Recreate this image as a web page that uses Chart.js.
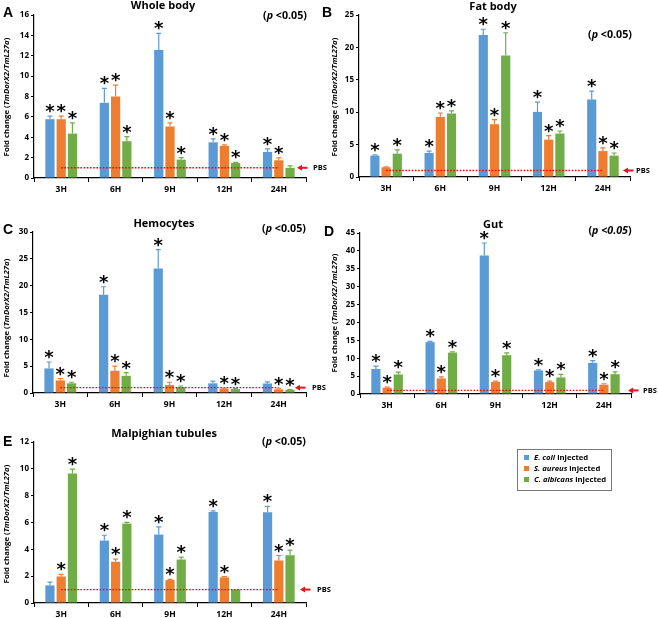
<!DOCTYPE html>
<html>
<head>
<meta charset="utf-8">
<script src="https://cdn.jsdelivr.net/npm/chart.js@4.4.0/dist/chart.umd.min.js"></script>
<style>
  body { margin: 0; background: #fff; }
  #wrap { position: relative; width: 658px; height: 618px; }
  #wrap canvas { position: absolute; left: 0; top: 0; }
  .legend {
    position: absolute; left: 517px; top: 449px; width: 93px; height: 38px;
    border: 1px solid #777; font: bold 7.7px "Open Sans", sans-serif; color: #000;
    box-sizing: content-box; padding-top: 2px;
  }
  .legend div { height: 11px; line-height: 11px; padding-left: 16px; position: relative; }
  .legend span.sq { position: absolute; left: 6px; top: 3px; width: 5px; height: 5px; }
</style>
</head>
<body>
<div id="wrap">
  <canvas id="panelA" width="658" height="618"></canvas>
  <canvas id="panelB" width="658" height="618"></canvas>
  <canvas id="panelC" width="658" height="618"></canvas>
  <canvas id="panelD" width="658" height="618"></canvas>
  <canvas id="panelE" width="658" height="618"></canvas>
  <div class="legend">
    <div><span class="sq" style="background:#5B9BD5"></span><i>E. coli</i> injected</div>
    <div><span class="sq" style="background:#ED7D31"></span><i>S. aureus</i> injected</div>
    <div><span class="sq" style="background:#70AD47"></span><i>C. albicans</i> injected</div>
  </div>
</div>
<script>
const HOURS = ['3H', '6H', '9H', '12H', '24H'];
const SERIES = ['E. coli injected', 'S. aureus injected', 'C. albicans injected'];
const COLORS = ['#5B9BD5', '#ED7D31', '#70AD47'];
const PBS = [1, 1, 1, 1, 1];

// rows: E. coli, S. aureus, C. albicans
const wholeBodyMean = [
  [5.77, 7.38, 12.56, 3.5, 2.56],
  [5.77, 8.0, 5.05, 3.15, 1.74],
  [4.36, 3.61, 1.8, 1.48, 1.0],
];
const wholeBodyErr = [
  [0.3, 1.41, 1.64, 0.34, 0.29],
  [0.3, 1.11, 0.36, 0.1, 0.23],
  [1.05, 0.46, 0.2, 0.06, 0.2],
];
const wholeBodySig = [[1, 1, 1, 1, 1], [1, 1, 1, 1, 1], [1, 1, 1, 1, 0]];

const fatBodyMean = [
  [3.3, 3.7, 21.9, 10.05, 11.96],
  [1.5, 9.28, 8.14, 5.77, 4.0],
  [3.6, 9.8, 18.76, 6.7, 3.3],
];
const fatBodyErr = [
  [0.1, 0.3, 0.9, 1.5, 1.3],
  [0.05, 0.6, 0.7, 0.6, 0.5],
  [0.6, 0.4, 3.5, 0.4, 0.4],
];
const fatBodySig = [[1, 1, 1, 1, 1], [0, 1, 1, 1, 1], [1, 1, 1, 1, 1]];

const hemocytesMean = [
  [4.58, 18.3, 23.2, 1.8, 1.77],
  [2.35, 4.15, 1.5, 0.8, 0.67],
  [1.8, 3.2, 1.1, 0.73, 0.6],
];
const hemocytesErr = [
  [1.2, 1.5, 3.5, 0.4, 0.3],
  [0.35, 0.85, 0.5, 0.1, 0.1],
  [0.2, 0.6, 0.2, 0.1, 0.05],
];
const hemocytesSig = [[1, 1, 1, 0, 0], [1, 1, 1, 1, 1], [1, 1, 1, 1, 1]];

const gutMean = [
  [7.0, 14.5, 38.7, 6.57, 8.7],
  [1.75, 4.35, 3.4, 3.33, 2.6],
  [5.46, 11.57, 10.83, 4.63, 5.55],
];
const gutErr = [
  [0.8, 0.2, 3.5, 0.2, 0.65],
  [0.15, 0.45, 0.2, 0.27, 0.27],
  [0.65, 0.2, 0.67, 0.83, 0.65],
];
const gutSig = [[1, 1, 1, 1, 1], [1, 1, 1, 1, 1], [1, 1, 1, 1, 1]];

const malpighianMean = [
  [1.31, 4.65, 5.1, 6.78, 6.76],
  [1.98, 3.07, 1.71, 1.91, 3.17],
  [9.65, 5.92, 3.24, 1.01, 3.56],
];
const malpighianErr = [
  [0.25, 0.4, 0.57, 0.08, 0.44],
  [0.15, 0.2, 0.05, 0.05, 0.37],
  [0.33, 0.09, 0.18, 0, 0.38],
];
const malpighianSig = [[0, 1, 1, 1, 1], [1, 1, 1, 1, 1], [1, 1, 1, 0, 1]];

const FONT = '"Open Sans", sans-serif';
const Y_W = 30;
const X_H = 20;

function drawMixed(ctx, segs, x, y, size, align) {
  // segs: [text, italic]
  let total = 0;
  segs.forEach(s => {
    ctx.font = (s[1] ? 'italic ' : '') + 'bold ' + size + 'px ' + FONT;
    total += ctx.measureText(s[0]).width;
  });
  let cx = align === 'center' ? x - total / 2 : x;
  ctx.textAlign = 'left';
  segs.forEach(s => {
    ctx.font = (s[1] ? 'italic ' : '') + 'bold ' + size + 'px ' + FONT;
    ctx.fillText(s[0], cx, y);
    cx += ctx.measureText(s[0]).width;
  });
}

function decor(p, err, sig) {
  return {
    id: 'decor',
    afterDatasetsDraw(chart) {
      const ctx = chart.ctx;
      const y = chart.scales.y;
      for (let i = 0; i < 3; i++) {
        const meta = chart.getDatasetMeta(i);
        meta.data.forEach((bar, j) => {
          const v = chart.data.datasets[i].data[j];
          const top = y.getPixelForValue(v + err[i][j]);
          ctx.save();
          ctx.strokeStyle = COLORS[i];
          ctx.lineWidth = 1.2;
          if (err[i][j] > 0) {
            ctx.beginPath();
            ctx.moveTo(bar.x, bar.y);
            ctx.lineTo(bar.x, top);
            ctx.moveTo(bar.x - 2.5, top);
            ctx.lineTo(bar.x + 2.5, top);
            ctx.stroke();
          }
          if (sig[i][j]) {
            ctx.fillStyle = '#000';
            ctx.font = 'bold 18px "DejaVu Sans"';
            ctx.textAlign = 'center';
            ctx.textBaseline = 'alphabetic';
            const m = ctx.measureText('*');
            const base = top - 7.5 - (m.actualBoundingBoxDescent - m.actualBoundingBoxAscent) / 2;
            ctx.fillText('*', bar.x, base);
          }
          ctx.restore();
        });
      }
    },
    afterDraw(chart) {
      const ctx = chart.ctx;
      const y1 = chart.scales.y.getPixelForValue(1);
      ctx.save();
      ctx.fillStyle = '#000';
      ctx.textBaseline = 'middle';
      // panel letter
      ctx.font = 'bold 14px "Liberation Sans"';
      ctx.textAlign = 'left';
      ctx.fillText(p.letter, p.letterX, p.letterY);
      // title
      ctx.font = 'bold 11px ' + FONT;
      ctx.textAlign = 'center';
      ctx.fillText(p.title, p.titleX, p.titleY);
      // p value
      drawMixed(ctx, p.pItalic ? [['(', false], ['p <0.05', true], [')', false]]
                               : [['(', false], ['p', true], [' <0.05)', false]], p.pX, p.pY, 10.7, 'center');
      // y axis title
      ctx.save();
      ctx.translate(p.yTitleX, p.yTitleY);
      ctx.rotate(-Math.PI / 2);
      drawMixed(ctx, [['Fold change (', false], ['TmDorX2/TmL27a', true], [')', false]], 0, 0, 7.8, 'center');
      ctx.restore();
      // PBS arrow and label
      ctx.fillStyle = '#E8141B';
      ctx.beginPath();
      ctx.moveTo(p.arrowX, y1);
      ctx.lineTo(p.arrowX + 5, y1 - 3);
      ctx.lineTo(p.arrowX + 5, y1 + 3);
      ctx.closePath();
      ctx.fill();
      ctx.fillRect(p.arrowX + 4, y1 - 1, 6.5, 2);
      ctx.fillStyle = '#000';
      ctx.font = 'bold 7.5px ' + FONT;
      ctx.textAlign = 'left';
      ctx.fillText('PBS', p.pbsX, y1 + 0.5);
      ctx.restore();
    }
  };
}

function makePanel(id, p, mean, err, sig) {
  const datasets = mean.map((vals, i) => ({
    label: SERIES[i],
    data: vals,
    backgroundColor: COLORS[i],
    barPercentage: 0.82,
    categoryPercentage: 0.62,
  }));
  datasets.push({
    type: 'line', label: 'PBS', data: PBS, order: -1,
    borderColor: '#FF0000', borderWidth: 1.4, borderDash: [1.6, 1.6],
    pointRadius: 0, fill: false,
  });
  const tickFont = { family: FONT, weight: 'bold', size: 8 };
  new Chart(document.getElementById(id), {
    type: 'bar',
    data: { labels: HOURS, datasets },
    options: {
      responsive: false,
      animation: false,
      layout: { padding: { left: p.axisX - Y_W, top: p.top, right: 658 - p.right, bottom: 618 - p.bottom - X_H } },
      plugins: { legend: { display: false }, tooltip: { enabled: false } },
      scales: {
        x: {
          grid: { offset: true, drawOnChartArea: false, tickLength: 4, color: '#000' },
          border: { color: '#000', width: 1.2 },
          ticks: { color: '#000', font: { family: FONT, weight: 'bold', size: 8.5 }, padding: 2 },
          afterFit(s) { s.height = X_H; },
        },
        y: {
          min: 0, max: p.max,
          grid: { drawOnChartArea: false, tickLength: 3, color: '#000' },
          border: { color: '#000', width: 1.2 },
          ticks: { stepSize: p.step, color: '#000', font: tickFont, padding: 2 },
          afterFit(s) { s.width = Y_W; },
        },
      },
    },
    plugins: [decor(p, err, sig)],
  });
}

makePanel('panelA', { letter: 'A', title: 'Whole body', axisX: 34, top: 15, bottom: 178, right: 306, max: 16, step: 2,
  titleX: 163, titleY: 6, pX: 285, pY: 16, letterX: 3, letterY: 13, yTitleX: 7, yTitleY: 97, arrowX: 297, pbsX: 313 },
  wholeBodyMean, wholeBodyErr, wholeBodySig);
makePanel('panelB', { letter: 'B', title: 'Fat body', axisX: 359, top: 15, bottom: 177, right: 630, max: 25, step: 5,
  titleX: 493, titleY: 7, pX: 610, pY: 35, letterX: 322, letterY: 13, yTitleX: 335, yTitleY: 97, arrowX: 623, pbsX: 636 },
  fatBodyMean, fatBodyErr, fatBodySig);
makePanel('panelC', { letter: 'C', title: 'Hemocytes', axisX: 33, top: 232, bottom: 393, right: 306, max: 30, step: 5,
  titleX: 164, titleY: 224, pX: 284, pY: 229, letterX: 3, letterY: 230, yTitleX: 7, yTitleY: 318, arrowX: 295, pbsX: 312 },
  hemocytesMean, hemocytesErr, hemocytesSig);
makePanel('panelD', { letter: 'D', title: 'Gut', axisX: 360, top: 233, bottom: 394, right: 631, max: 45, step: 5,
  titleX: 493, titleY: 225, pX: 610, pY: 231, letterX: 324, letterY: 232, yTitleX: 335, yTitleY: 313, arrowX: 628, pbsX: 643, pItalic: true },
  gutMean, gutErr, gutSig);
makePanel('panelE', { letter: 'E', title: 'Malpighian tubules', axisX: 34, top: 442, bottom: 603, right: 306, max: 12, step: 2,
  titleX: 164, titleY: 434, pX: 284, pY: 442, letterX: 3, letterY: 442, yTitleX: 7, yTitleY: 524, arrowX: 300, pbsX: 317 },
  malpighianMean, malpighianErr, malpighianSig);
</script>
</body>
</html>
